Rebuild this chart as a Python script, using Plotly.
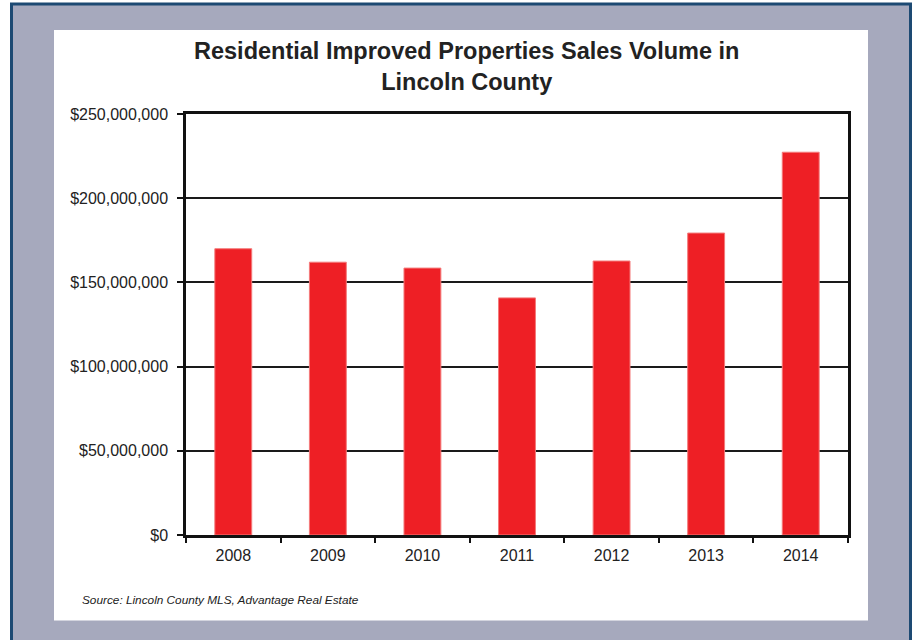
import plotly.graph_objects as go

# Sales volume by year
years = ["2008", "2009", "2010", "2011", "2012", "2013", "2014"]
sales_volume = [170_000_000, 162_000_000, 158_500_000, 140_800_000, 162_700_000, 179_300_000, 227_300_000]

y_tick_values = [0, 50_000_000, 100_000_000, 150_000_000, 200_000_000, 250_000_000]
y_tick_labels = ["$0", "$50,000,000", "$100,000,000", "$150,000,000", "$200,000,000", "$250,000,000"]

W, H = 914, 640
PL, PR, PT, PB = 186, 848, 114, 535  # plot area in pixels


def px_x(x):
    return (x - PL) / (PR - PL)


def px_y(y):
    return (PB - y) / (PB - PT)


FONT = "Liberation Sans, Arial, sans-serif"
TEXT = "#222222"

fig = go.Figure(
    go.Bar(
        x=years,
        y=sales_volume,
        marker=dict(color="#ee1f25", line=dict(color="#f47a7a", width=1)),
        hoverinfo="x+y",
    )
)

shapes = [
    # grey frame with dark blue border
    dict(type="rect", xref="paper", yref="paper", layer="below",
         x0=px_x(11.5), x1=px_x(910.5), y0=px_y(660), y1=px_y(4),
         fillcolor="#a6a9bd", line=dict(color="#1d4a73", width=3)),
    # white chart panel
    dict(type="rect", xref="paper", yref="paper", layer="below",
         x0=px_x(54), x1=px_x(868), y0=px_y(620.5), y1=px_y(30),
         fillcolor="white", line=dict(width=0)),
]

annotations = [
    dict(text="<b>Residential Improved Properties Sales Volume in<br>Lincoln County</b>",
         xref="paper", yref="paper", x=px_x(466), y=px_y(66),
         xanchor="center", yanchor="middle", showarrow=False, align="center",
         font=dict(family=FONT, size=23.5, color=TEXT)),
    dict(text="<i>Source: Lincoln County MLS, Advantage Real Estate</i>",
         xref="paper", yref="paper", x=px_x(80), y=px_y(600),
         xanchor="left", yanchor="middle", showarrow=False,
         font=dict(family=FONT, size=11.8, color=TEXT)),
]

fig.update_layout(
    width=W, height=H,
    margin=dict(l=PL, r=W - PR, t=PT, b=H - PB, pad=0),
    paper_bgcolor="white",
    plot_bgcolor="rgba(0,0,0,0)",
    bargap=0.61,
    showlegend=False,
    shapes=shapes,
    annotations=annotations,
    font=dict(family=FONT, size=16, color=TEXT),
)

fig.update_xaxes(
    type="category",
    showline=True, linecolor="#111111", linewidth=2.5, mirror=True,
    ticks="outside", tickson="boundaries", ticklen=5, tickwidth=1.5, tickcolor="#111111",
    ticklabelstandoff=4,
    tickfont=dict(family=FONT, size=16, color=TEXT),
    showgrid=False, zeroline=False,
)

fig.update_yaxes(
    range=[0, 250_000_000],
    tickvals=y_tick_values, ticktext=y_tick_labels,
    showline=True, linecolor="#111111", linewidth=2.5, mirror=True,
    ticks="outside", ticklen=6, tickwidth=1.5, tickcolor="#111111",
    ticklabelstandoff=6,
    tickfont=dict(family=FONT, size=16, color=TEXT),
    showgrid=True, gridcolor="#1a1a1a", gridwidth=1.6,
    zeroline=False,
)

fig.write_html("out.html")
